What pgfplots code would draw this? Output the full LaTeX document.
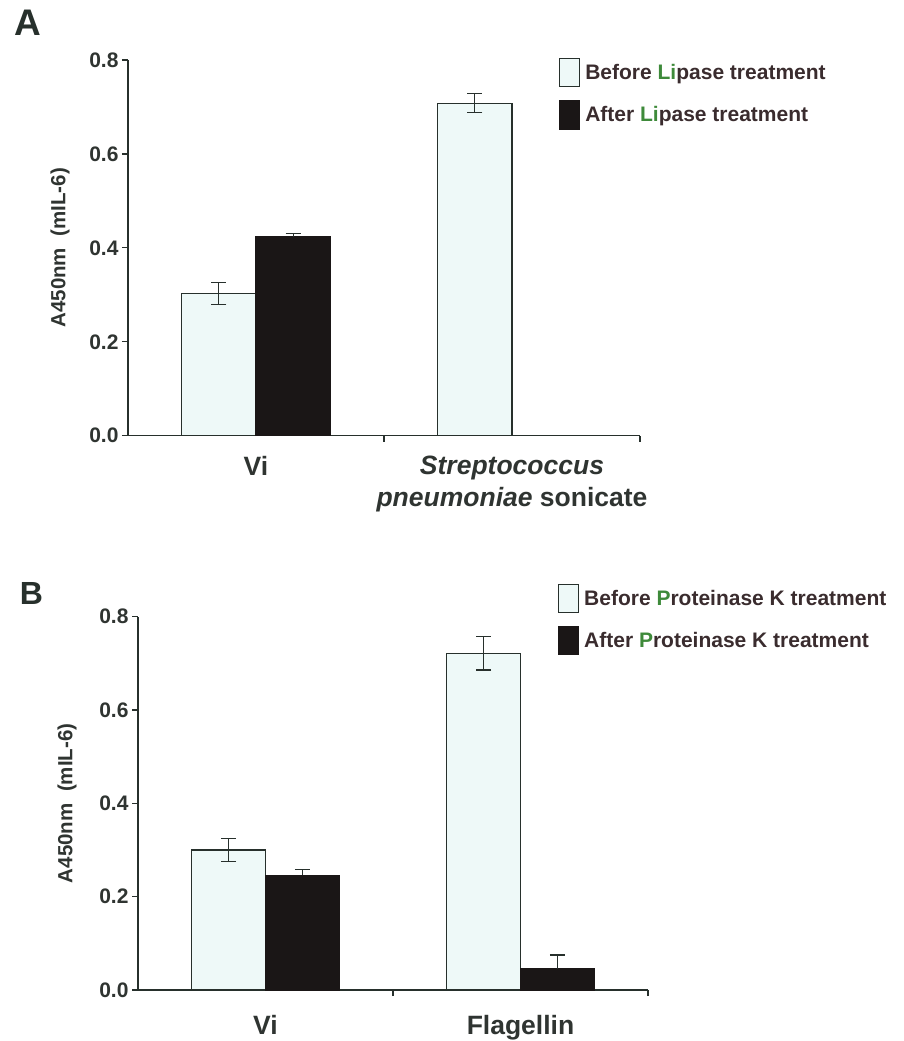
\documentclass[border=0pt]{standalone}
\usepackage{pgfplots}
\pgfplotsset{compat=1.18}
\usepackage{fontspec}
\setmainfont{Liberation Sans}
\definecolor{axc}{HTML}{27302C}
\definecolor{txt}{HTML}{2F3431}
\definecolor{lg}{HTML}{3E8A3A}
\definecolor{befill}{HTML}{EEF9F8}
\definecolor{afill}{HTML}{1A1616}
\definecolor{leg}{HTML}{3A2C2E}

\pgfplotsset{
  /pgfplots/ybar legend/.style={
    /pgfplots/legend image code/.code={\draw[##1,line width=1.2pt] (0pt,-14pt) rectangle (20pt,14pt);}},
  panel/.style={
    scale only axis,
    ybar,
    bar width=0.29,
    axis lines*=left,
    axis line style={axc, line width=1.2pt},
    xmin=0, xmax=2, ymin=0, ymax=0.8,
    ytick={0,0.2,0.4,0.6,0.8},
    yticklabel style={font=\bfseries\fontsize{21}{21}\selectfont, text=txt,
      /pgf/number format/.cd, fixed, fixed zerofill, precision=1, assume math mode=true},
    xtick={1,2}, xticklabels={},
    tick align=outside, major tick length=6pt,
    tick style={axc, line width=1.2pt},
    extra x ticks={0.5,1.5},
    ylabel={A450nm\ \ (mIL-6)},
    ylabel style={font=\bfseries\fontsize{20.5}{20.5}\selectfont, text=txt, anchor=center},
    legend cell align=left,
    legend style={anchor=north west, draw=none, fill=none, inner sep=0pt, outer sep=0pt,
      row sep=13pt, font=\bfseries\fontsize{21}{21}\selectfont, text=leg,
      nodes={inner xsep=5pt, inner ysep=0pt}},
    error bars/error bar style={axc, line width=1.2pt},
    error bars/error mark options={axc, rotate=90, mark size=7.5pt, line width=1.2pt},
  },
  before/.style={fill=befill, draw=axc, line width=1.2pt},
  after/.style={fill=afill, draw=afill, line width=1.2pt},
}

\begin{document}
\begin{tikzpicture}
\path[use as bounding box] (0,0) rectangle (904pt,-1041pt);

% Panel A
\begin{axis}[panel,
  at={(128pt,-435.7pt)}, anchor=south west,
  width=512pt, height=375.7pt,
  extra x tick labels={Vi, {\textit{Streptococcus}\\\textit{pneumoniae} sonicate}},
  extra x tick style={major tick length=0pt,
      tick label style={font=\bfseries\fontsize{26.5}{32}\selectfont, text=txt, align=center, yshift=-17pt}},
  ylabel style={at={(axis description cs:-0.1328,0.5)}},
  legend style={at={(rel axis cs:0.842,1.005)}},
]
\addplot[before, bar shift=-0.145, error bars/.cd, y dir=both, y explicit]
  coordinates {(0.5,0.303) +- (0,0.023) (1.5,0.708) +- (0,0.020)};
\addplot[after, bar shift=0.145, error bars/.cd, y dir=plus, y explicit]
  coordinates {(0.5,0.423) +- (0,0.008)};
\legend{Before \textcolor{lg}{Li}pase treatment, After \textcolor{lg}{Li}pase treatment}
\end{axis}

% Panel B
\begin{axis}[panel,
  at={(138pt,-990pt)}, anchor=south west,
  width=510pt, height=373.3pt,
  extra x tick labels={Vi, Flagellin},
  extra x tick style={major tick length=0pt,
      tick label style={font=\bfseries\fontsize{26.5}{32}\selectfont, text=txt, align=center, yshift=-22pt}},
  ylabel style={at={(axis description cs:-0.139,0.5)}},
  legend style={at={(rel axis cs:0.8235,1.0876)}},
]
\addplot[before, bar shift=-0.145, error bars/.cd, y dir=both, y explicit]
  coordinates {(0.5,0.300) +- (0,0.025) (1.5,0.722) +- (0,0.036)};
\addplot[after, bar shift=0.145, error bars/.cd, y dir=plus, y explicit]
  coordinates {(0.5,0.246) +- (0,0.012) (1.5,0.046) +- (0,0.029)};
\legend{Before \textcolor{lg}{P}roteinase K treatment, After \textcolor{lg}{P}roteinase K treatment}
\end{axis}

\node[font=\bfseries\fontsize{37}{37}\selectfont, text=axc] at (28pt,-23pt) {A};
\node[font=\bfseries\fontsize{32}{32}\selectfont, text=axc] at (31.5pt,-593.5pt) {B};
\end{tikzpicture}
\end{document}
